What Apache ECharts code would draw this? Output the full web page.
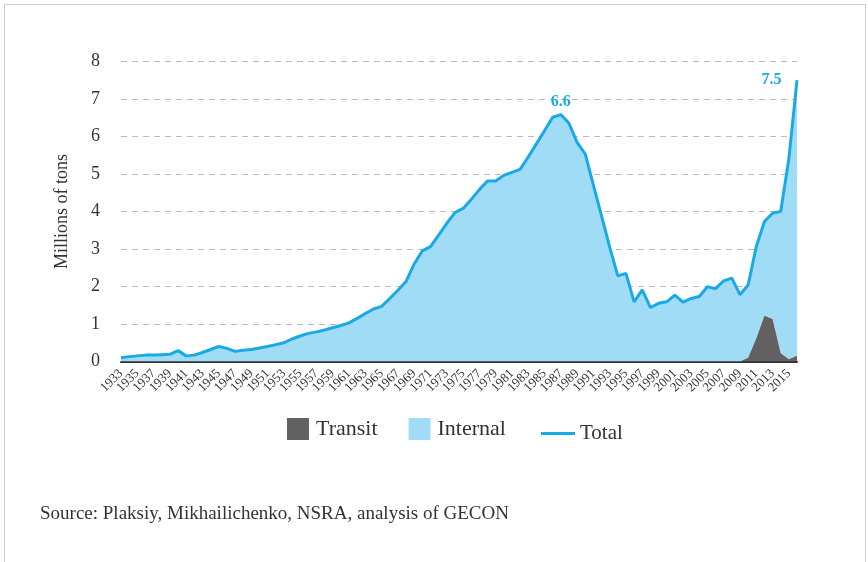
<!DOCTYPE html>
<html>
<head>
<meta charset="utf-8">
<script src="https://cdn.jsdelivr.net/npm/echarts@6/dist/echarts.min.js"></script>
<style>
  html, body { margin: 0; padding: 0; background: #fff; }
  #frame { position: absolute; left: 4px; top: 4px; width: 860px; height: 570px; border: 1px solid #d0d0d0; border-bottom: none; }
  #chart { position: absolute; left: 0; top: 0; width: 868px; height: 562px; }
</style>
</head>
<body>
<div id="frame"></div>
<div id="chart"></div>
<script>
// years 1933..2016, labels shown every other year
const years = [];
for (let y = 1933; y <= 2016; y++) years.push(String(y));

// total cargo, millions of tons
const total = [
  0.10, 0.13, 0.15, 0.17, 0.17, 0.18, 0.19, 0.29, 0.15, 0.17, // 1933-1942
  0.24, 0.32, 0.40, 0.35, 0.27, 0.30, 0.32, 0.36, 0.40, 0.45, // 1943-1952
  0.50, 0.60, 0.68, 0.75, 0.79, 0.84, 0.90, 0.96, 1.03, 1.15, // 1953-1962
  1.28, 1.40, 1.47, 1.68, 1.90, 2.13, 2.60, 2.95, 3.06, 3.37, // 1963-1972
  3.68, 3.97, 4.08, 4.32, 4.58, 4.81, 4.81, 4.96, 5.04, 5.12, // 1973-1982
  5.45, 5.80, 6.15, 6.51, 6.58, 6.35, 5.84, 5.53, 4.70, 3.88, // 1983-1992
  3.05, 2.28, 2.35, 1.59, 1.91, 1.44, 1.55, 1.59, 1.77, 1.58, // 1993-2002
  1.68, 1.73, 1.99, 1.94, 2.15, 2.22, 1.78, 2.04, 3.06, 3.73, // 2003-2012
  3.95, 4.00, 5.40, 7.50                                      // 2013-2016
];

// transit cargo, millions of tons (zero before 2010)
const transit = [
  0, 0, 0, 0, 0, 0, 0, 0, 0, 0,
  0, 0, 0, 0, 0, 0, 0, 0, 0, 0,
  0, 0, 0, 0, 0, 0, 0, 0, 0, 0,
  0, 0, 0, 0, 0, 0, 0, 0, 0, 0,
  0, 0, 0, 0, 0, 0, 0, 0, 0, 0,
  0, 0, 0, 0, 0, 0, 0, 0, 0, 0,
  0, 0, 0, 0, 0, 0, 0, 0, 0, 0,
  0, 0, 0, 0, 0, 0, 0, 0.10, 0.61, 1.22,
  1.13, 0.22, 0.06, 0.15
];

const yTicks = [0, 1, 2, 3, 4, 5, 6, 7, 8];

// annotated points
const callouts = [
  { year: '1987', text: '6.6', position: 'top', distance: 4 },
  { year: '2016', text: '7.5', position: 'left', distance: 15 }
];

// internal = total - transit (stacked on top of transit)
const internal = total.map((v, i) => +(v - transit[i]).toFixed(2));

const serif = '"Liberation Serif", "DejaVu Serif", serif';
const blue = '#19aae6';

let chart = echarts.init(document.getElementById('chart'));

chart.setOption({
  animation: false,
  textStyle: { fontFamily: serif },
  grid: { left: 121, right: 71, top: 61.3, bottom: 200.5, containLabel: false },
  legend: [
    {
      data: ['Transit', 'Internal'],
      left: 287,
      top: 418,
      padding: 0,
      itemWidth: 22,
      itemHeight: 22,
      itemGap: 31,
      icon: 'rect',
      textStyle: { fontFamily: serif, fontSize: 22, color: '#333', padding: [0, 0, 0, 2] }
    },
    {
      data: ['Total'],
      left: 541,
      top: 423,
      padding: 0,
      itemWidth: 34,
      itemHeight: 3,
      icon: 'rect',
      textStyle: { fontFamily: serif, fontSize: 21, color: '#333', padding: [5, 0, 0, 0] }
    }
  ],
  xAxis: {
    type: 'category',
    boundaryGap: false,
    data: years,
    axisLine: { lineStyle: { color: '#333', width: 2 } },
    axisTick: { show: false },
    axisLabel: {
      interval: 0,
      formatter: function (v, i) { return i % 2 === 0 ? v : ''; },
      hideOverlap: false,
      rotate: 45,
      margin: 10,
      fontFamily: serif,
      fontSize: 13,
      color: '#333'
    }
  },
  yAxis: {
    type: 'value',
    min: yTicks[0],
    max: yTicks[yTicks.length - 1],
    interval: 1,
    name: 'Millions of tons',
    nameLocation: 'middle',
    nameGap: 50,
    nameTextStyle: { fontFamily: serif, fontSize: 18, color: '#333' },
    axisLine: { show: false },
    axisTick: { show: false },
    axisLabel: { margin: 21, fontFamily: serif, fontSize: 18, color: '#333' },
    splitLine: { lineStyle: { color: '#bbb', type: [6, 5], width: 1.2 } }
  },
  series: [
    {
      name: 'Transit',
      type: 'line',
      stack: 'cargo',
      data: transit,
      symbol: 'none',
      lineStyle: { width: 0 },
      itemStyle: { color: '#626062' },
      areaStyle: { color: '#626062', opacity: 1 },
      z: 3
    },
    {
      name: 'Internal',
      type: 'line',
      stack: 'cargo',
      data: internal,
      symbol: 'none',
      lineStyle: { width: 0 },
      itemStyle: { color: '#a1dcf7' },
      areaStyle: { color: '#a1dcf7', opacity: 1 },
      z: 2
    },
    {
      name: 'Total',
      type: 'line',
      data: total,
      symbol: 'none',
      itemStyle: { color: blue },
      lineStyle: { color: blue, width: 3 },
      z: 4,
      markPoint: {
        symbol: 'circle',
        symbolSize: 1,
        itemStyle: { color: 'rgba(0,0,0,0)' },
        data: callouts.map(function (c) {
          const i = years.indexOf(c.year);
          return {
            coord: [c.year, total[i]],
            label: {
              show: true,
              formatter: c.text,
              position: c.position,
              distance: c.distance,
              color: blue,
              fontFamily: serif,
              fontSize: 16,
              fontWeight: 'bold'
            }
          };
        })
      }
    }
  ],
  graphic: [
    {
      type: 'text',
      left: 40,
      top: 505,
      style: {
        text: 'Source: Plaksiy, Mikhailichenko, NSRA, analysis of GECON',
        font: '19px ' + serif,
        fill: '#333'
      }
    }
  ]
});
</script>
</body>
</html>
